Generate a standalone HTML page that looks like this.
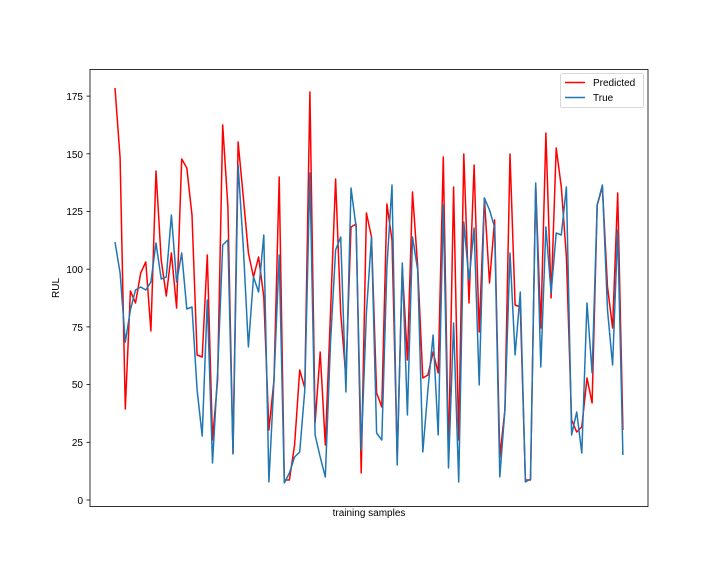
<!DOCTYPE html>
<html><head><meta charset="utf-8"><style>body{margin:0;background:#fff}svg{display:block}</style></head><body>
<svg width="720" height="576" xmlns="http://www.w3.org/2000/svg" font-family="Liberation Sans, DejaVu Sans, sans-serif" font-size="10">
<rect width="720" height="576" fill="#fff"/>
<polyline fill="none" stroke="#f00" stroke-width="1.5" stroke-linejoin="round" points="115,88 120.1,158 125.3,409 130.4,291 135.5,303 140.7,273 145.8,262 150.9,331 156,171 161.2,260 166.3,296 171.4,253 176.6,308 181.7,159 186.8,168 192,215 197.1,355 202.2,357 207.3,255 212.5,440 217.6,380 222.7,125 227.9,207 233,453 238.1,142 243.3,197 248.4,253 253.5,277 258.6,257 263.8,297 268.9,430 274,380 279.2,177 284.3,480 289.4,480 294.6,445 299.7,370 304.8,388 309.9,92 315.1,423 320.2,352 325.3,445 330.5,313 335.6,179 340.7,313 345.9,377 351,227 356.1,224 361.2,473 366.4,213 371.5,237 376.6,393 381.8,407 386.9,204 392,240 397.2,457 402.3,267 407.4,360 412.5,192 417.7,267 422.8,378 427.9,375 433.1,352 438.2,373 443.3,157 448.5,457 453.6,187 458.7,440 463.8,154 469,303 474.1,165 479.2,332 484.4,198 489.5,283 494.6,220 499.8,457 504.9,410 510,154 515.1,305 520.3,307 525.4,480 530.5,480 535.7,185 540.8,328 545.9,133 551.1,298 556.2,148 561.3,187 566.4,257 571.6,420 576.7,432 581.8,427 587,378 592.1,403 597.2,205 602.4,187 607.5,287 612.6,328 617.7,193 622.9,430"/>
<polyline fill="none" stroke="#1f77b4" stroke-width="1.5" stroke-linejoin="round" points="115,242 120.1,273 125.3,342 130.4,310 135.5,290 140.7,287 145.8,290 150.9,282 156,243 161.2,279 166.3,277 171.4,215 176.6,282 181.7,253 186.8,309 192,307 197.1,390 202.2,436 207.3,300 212.5,463 217.6,373 222.7,245 227.9,240 233,454 238.1,165 243.3,247 248.4,347 253.5,277 258.6,292 263.8,235 268.9,482 274,380 279.2,255 284.3,483 289.4,473 294.6,457 299.7,452 304.8,390 309.9,173 315.1,435 320.2,457 325.3,477 330.5,343 335.6,250 340.7,237 345.9,392 351,188 356.1,227 361.2,450 366.4,313 371.5,237 376.6,433 381.8,440 386.9,267 392,185 397.2,465 402.3,263 407.4,415 412.5,237 417.7,270 422.8,452 427.9,390 433.1,335 438.2,435 443.3,205 448.5,468 453.6,323 458.7,482 463.8,222 469,280 474.1,228 479.2,385 484.4,198 489.5,210 494.6,227 499.8,477 504.9,410 510,253 515.1,355 520.3,292 525.4,482 530.5,479 535.7,183 540.8,367 545.9,227 551.1,293 556.2,233 561.3,235 566.4,187 571.6,435 576.7,412 581.8,453 587,303 592.1,373 597.2,205 602.4,185 607.5,310 612.6,365 617.7,230 622.9,455"/>
<rect x="90" y="69.5" width="558" height="437" fill="none" stroke="#000" stroke-width="0.8"/>
<g stroke="#000" stroke-width="0.8">
<line x1="86.5" x2="90" y1="500" y2="500"/><line x1="86.5" x2="90" y1="442.3" y2="442.3"/><line x1="86.5" x2="90" y1="384.6" y2="384.6"/><line x1="86.5" x2="90" y1="326.9" y2="326.9"/><line x1="86.5" x2="90" y1="269.2" y2="269.2"/><line x1="86.5" x2="90" y1="211.5" y2="211.5"/><line x1="86.5" x2="90" y1="153.8" y2="153.8"/><line x1="86.5" x2="90" y1="96.1" y2="96.1"/>
</g>
<g text-anchor="end" fill="#000">
<text x="83" y="504">0</text><text x="83" y="446">25</text><text x="83" y="388">50</text><text x="83" y="331">75</text><text x="83" y="273">100</text><text x="83" y="215">125</text><text x="83" y="158">150</text><text x="83" y="100">175</text>
</g>
<text x="369" y="516" text-anchor="middle">training samples</text>
<text transform="translate(59,288) rotate(-90)" text-anchor="middle">RUL</text>
<rect x="560.5" y="73.5" width="83" height="34" rx="2" fill="#fff" stroke="#ccc" stroke-width="0.8"/>
<line x1="565" x2="585" y1="82.5" y2="82.5" stroke="#f00" stroke-width="1.5"/>
<line x1="565" x2="585" y1="97.5" y2="97.5" stroke="#1f77b4" stroke-width="1.5"/>
<text x="593" y="86">Predicted</text><text x="593" y="101">True</text>
</svg>
</body></html>
